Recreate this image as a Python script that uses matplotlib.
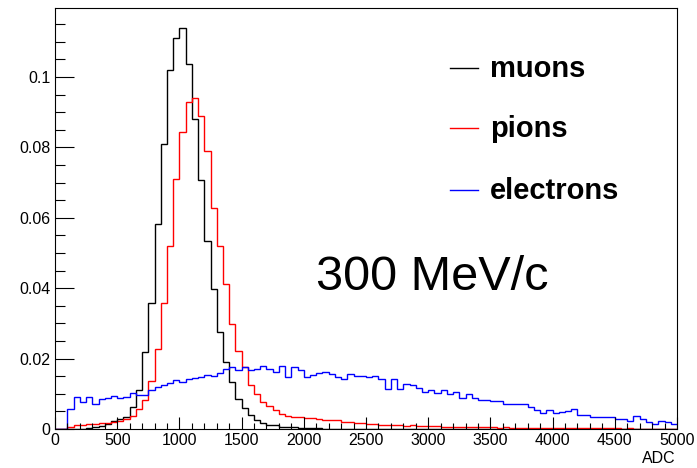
# ADC spectra for muons, pions and electrons at 300 MeV/c (ROOT-like style)

import matplotlib.pyplot as plt
import numpy as np
from matplotlib.ticker import MultipleLocator

plt.rcParams['font.family'] = ['Liberation Sans', 'DejaVu Sans']

# 100 bins of 50 ADC from 0 to 5000
bin_edges = np.arange(0, 5001, 50)

muons = [
    0, 0, 0, 0, 0, 0.0002, 0.0005, 0.0008, 0.0015, 0.0022,
    0.0028, 0.0033, 0.0062, 0.0112, 0.0219, 0.0358, 0.0582, 0.0809, 0.1021, 0.1112,
    0.1138, 0.1038, 0.0881, 0.0707, 0.0533, 0.0399, 0.0276, 0.0190, 0.0134, 0.0085,
    0.0061, 0.0039, 0.0026, 0.0017, 0.0012, 0.0010, 0.0006, 0.0005, 0.0005, 0.0004,
    0.0004, 0.0003, 0.0003, 0.0001, 0, 0, 0, 0, 0, 0,
    0, 0, 0, 0, 0, 0, 0, 0, 0, 0,
    0, 0, 0, 0, 0, 0, 0, 0, 0, 0,
    0, 0, 0, 0, 0, 0, 0, 0, 0, 0,
    0, 0, 0, 0, 0, 0, 0, 0, 0, 0,
    0, 0, 0, 0, 0, 0, 0, 0, 0, 0,
]

pions = [
    0, 0, 0.0006, 0.0010, 0.0010, 0.0013, 0.0013, 0.0017, 0.0017, 0.0020,
    0.0023, 0.0027, 0.0036, 0.0058, 0.0082, 0.0136, 0.0228, 0.0358, 0.0519, 0.0710,
    0.0843, 0.0929, 0.0941, 0.0889, 0.0790, 0.0629, 0.0519, 0.0413, 0.0299, 0.0222,
    0.0175, 0.0126, 0.0099, 0.0078, 0.0065, 0.0055, 0.0043, 0.0037, 0.0035, 0.0034,
    0.0031, 0.0030, 0.0029, 0.0026, 0.0026, 0.0025, 0.0021, 0.0020, 0.0016, 0.0017,
    0.0015, 0.0014, 0.0010, 0.0010, 0.0010, 0.0010, 0.0009, 0.0010, 0.0009, 0.0008,
    0.0008, 0.0009, 0.0007, 0.0006, 0.0007, 0.0006, 0.0005, 0.0005, 0.0006, 0.0005,
    0.0005, 0.0004, 0.0005, 0.0004, 0.0004, 0.0004, 0.0003, 0.0004, 0.0003, 0.0003,
    0.0003, 0.0002, 0.0003, 0.0004, 0.0002, 0.0002, 0.0002, 0.0002, 0.0002, 0.0002,
    0.0002, 0.0001, 0.0002, 0.0001, 0.0001, 0.0001, 0.0001, 0.0001, 0.0001, 0.0001,
]

electrons = [
    0, 0, 0.0058, 0.0091, 0.0077, 0.0091, 0.0070, 0.0084, 0.0088, 0.0094,
    0.0088, 0.0091, 0.0103, 0.0097, 0.0098, 0.0112, 0.0118, 0.0124, 0.0132, 0.0138,
    0.0134, 0.0141, 0.0145, 0.0148, 0.0153, 0.0150, 0.0160, 0.0170, 0.0176, 0.0167,
    0.0176, 0.0167, 0.0170, 0.0179, 0.0170, 0.0162, 0.0179, 0.0148, 0.0176, 0.0167,
    0.0148, 0.0153, 0.0160, 0.0162, 0.0155, 0.0148, 0.0141, 0.0155, 0.0150, 0.0150,
    0.0148, 0.0150, 0.0141, 0.0115, 0.0141, 0.0115, 0.0129, 0.0124, 0.0117, 0.0105,
    0.0112, 0.0102, 0.0112, 0.0100, 0.0105, 0.0089, 0.0100, 0.0088, 0.0083, 0.0082,
    0.0080, 0.0080, 0.0070, 0.0070, 0.0070, 0.0070, 0.0063, 0.0053, 0.0045, 0.0053,
    0.0045, 0.0048, 0.0051, 0.0056, 0.0039, 0.0039, 0.0034, 0.0034, 0.0034, 0.0034,
    0.0028, 0.0028, 0.0023, 0.0036, 0.0028, 0.0020, 0.0015, 0.0022, 0.0020, 0.0015,
]

series = [('muons', muons, 'black'), ('pions', pions, 'red'), ('electrons', electrons, 'blue')]

fig = plt.figure(figsize=(6.97, 4.68), dpi=100)
ax = fig.add_axes([55 / 697, 1 - 429 / 468, 622 / 697, 421 / 468])

for name, vals, col in series:
    ax.stairs(vals, bin_edges, color=col, linewidth=1.0, baseline=None)

ax.set_xlim(0, 5000)
ax.set_ylim(0, 0.1196)

# ROOT-like axes: inward ticks on left and bottom only
ax.xaxis.set_major_locator(MultipleLocator(500))
ax.xaxis.set_minor_locator(MultipleLocator(100))
ax.yaxis.set_major_locator(MultipleLocator(0.02))
ax.yaxis.set_minor_locator(MultipleLocator(0.005))
ax.tick_params(axis='both', which='both', direction='in', top=False, right=False,
               labelsize=11.5, width=0.8, color='black')
ax.tick_params(axis='y', which='major', length=13.5, pad=3.5)
ax.tick_params(axis='y', which='minor', length=7)
ax.tick_params(axis='x', which='major', length=8.5, pad=3)
ax.tick_params(axis='x', which='minor', length=4.3)
ax.set_yticks([0, 0.02, 0.04, 0.06, 0.08, 0.1])
ax.set_yticklabels(['0', '0.02', '0.04', '0.06', '0.08', '0.1'])
for sp in ax.spines.values():
    sp.set_linewidth(0.8)

fig.text(676 / 697, 1 - 463 / 468, 'ADC', ha='right', va='baseline', fontsize=11.5)

# legend drawn by hand, ROOT TLegend look
legend_y = [0.8575, 0.715, 0.5677]
for (name, vals, col), ly in zip(series, legend_y):
    ax.plot([0.635, 0.680], [ly, ly], color=col, linewidth=1.0, transform=ax.transAxes)
    ax.text(0.699, ly - 9 / 421, name, transform=ax.transAxes, fontsize=21,
            fontweight='bold', ha='left', va='baseline')

ax.text(0.4196, 0.330, '300 MeV/c', transform=ax.transAxes, fontsize=35,
        ha='left', va='baseline')

plt.savefig('out.png', dpi=100)
